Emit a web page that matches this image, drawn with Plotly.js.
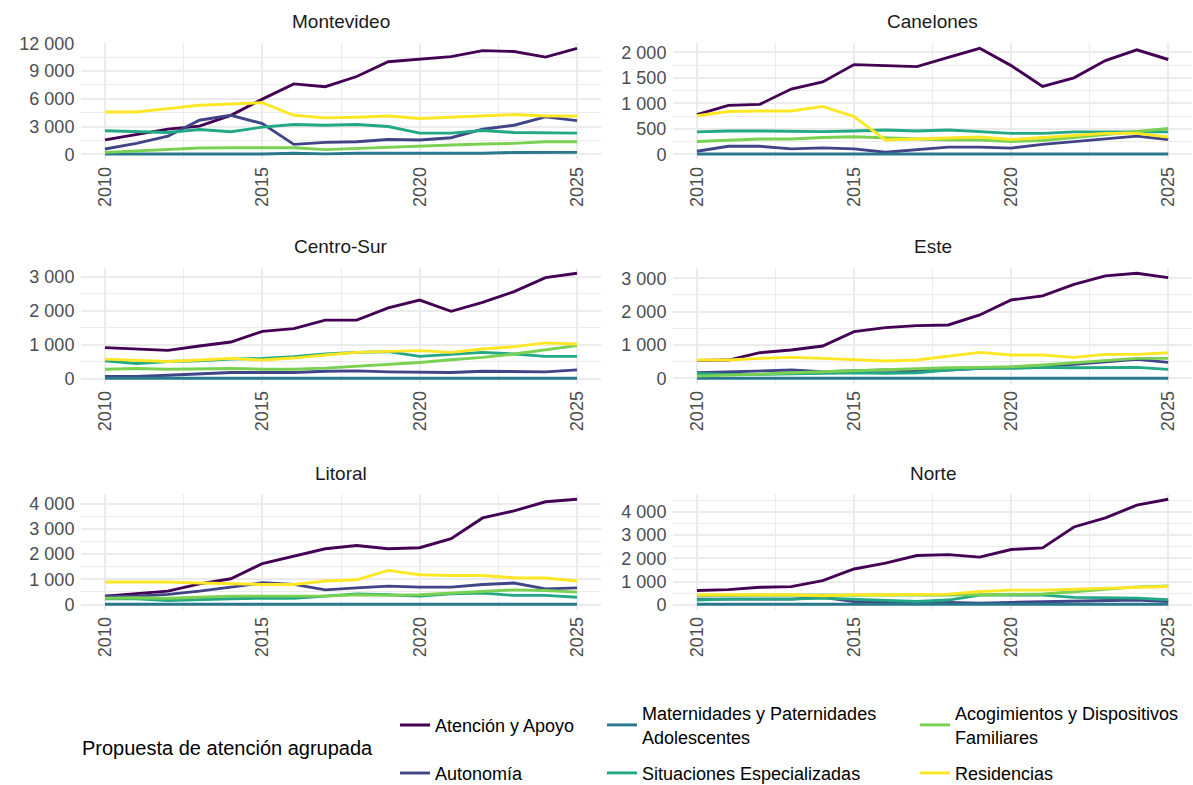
<!DOCTYPE html>
<html><head><meta charset="utf-8">
<script src="https://cdn.plot.ly/plotly-3.0.1.min.js"></script>
<style>body{margin:0;background:#fff}#chart{width:1193px;height:785px}</style>
</head><body><div id="chart"></div>
<script>
const years = [2010,2011,2012,2013,2014,2015,2016,2017,2018,2019,2020,2021,2022,2023,2024,2025];
const regions = ["Montevideo","Canelones","Centro-Sur","Este","Litoral","Norte"];
const seriesLabels = ["Atención y Apoyo","Autonomía","Maternidades y Paternidades<br>Adolescentes","Situaciones Especializadas","Acogimientos y Dispositivos<br>Familiares","Residencias"];
const legendTitle = "Propuesta de atención agrupada";
const yTickStep = [3000,500,1000,1000,1000,1000];
const xTickLabels = [2010,2015,2020,2025];

// Montevideo
const mvd_atencion     = [1550,2150,2720,3040,4200,5960,7600,7300,8400,10000,10300,10550,11200,11100,10500,11450];
const mvd_autonomia    = [570,1180,1950,3680,4210,3320,1070,1290,1360,1600,1540,1790,2710,3140,4040,3640];
const mvd_maternidades = [30,30,30,30,30,30,120,40,110,110,110,110,110,200,200,210];
const mvd_situaciones  = [2540,2430,2360,2680,2430,2930,3210,3140,3210,3000,2290,2290,2570,2360,2360,2290];
const mvd_acogimientos = [210,390,540,680,710,710,710,500,640,750,890,1000,1110,1180,1360,1360];
const mvd_residencias  = [4570,4570,4930,5290,5430,5570,4210,3930,4000,4140,3860,4000,4110,4290,4140,4140];
// Canelones
const can_atencion     = [780,960,980,1280,1420,1760,1740,1720,1900,2080,1740,1330,1500,1840,2050,1860];
const can_autonomia    = [60,156,156,106,125,106,40,95,140,140,120,195,250,300,356,290];
const can_maternidades = [5,5,5,5,5,5,5,5,5,5,5,5,5,5,5,5];
const can_situaciones  = [440,456,456,444,444,456,475,456,475,444,410,410,440,440,440,440];
const can_acogimientos = [250,280,300,300,330,345,320,300,280,280,250,270,330,395,456,506];
const can_residencias  = [756,840,850,850,940,740,280,300,320,340,290,330,375,410,410,340];
// Centro-Sur
const cs_atencion     = [910,880,830,960,1075,1390,1470,1720,1720,2080,2310,1980,2240,2560,2970,3100];
const cs_autonomia    = [60,60,100,150,178,178,178,218,228,198,178,178,218,218,198,257];
const cs_maternidades = [10,10,10,10,10,10,10,10,10,10,10,10,10,10,10,10];
const cs_situaciones  = [525,445,505,525,574,594,644,723,772,792,653,723,772,723,653,653];
const cs_acogimientos = [277,297,277,297,297,277,277,307,356,406,475,554,624,723,842,970];
const cs_residencias  = [574,545,505,545,594,545,604,693,772,800,822,772,871,940,1050,1020];
// Este
const este_atencion     = [540,550,770,850,970,1400,1520,1580,1600,1900,2350,2470,2820,3070,3150,3020];
const este_autonomia    = [170,190,220,250,200,230,250,230,250,300,330,370,420,500,570,480];
const este_maternidades = [5,5,5,5,5,5,5,5,5,5,5,5,5,5,5,5];
const este_situaciones  = [150,120,120,130,150,170,150,170,250,300,300,330,320,330,330,270];
const este_acogimientos = [70,90,130,170,200,230,270,300,320,330,350,400,470,550,600,600];
const este_residencias  = [550,550,600,630,600,550,520,550,670,780,700,700,630,720,720,770];
// Litoral
const lit_atencion     = [330,420,530,820,1020,1620,1910,2210,2340,2210,2250,2610,3430,3710,4070,4170];
const lit_autonomia    = [330,330,400,530,690,860,795,580,660,730,690,690,795,850,620,660];
const lit_maternidades = [10,10,10,10,10,10,10,10,10,10,10,10,10,10,10,10];
const lit_situaciones  = [225,225,160,200,225,250,250,330,420,385,330,420,450,360,360,290];
const lit_acogimientos = [250,265,250,290,330,330,330,330,385,360,385,450,530,580,555,490];
const lit_residencias  = [890,890,890,850,820,795,795,930,980,1350,1180,1150,1150,1060,1050,930];
// Norte
const nor_atencion     = [610,650,750,780,1040,1540,1790,2120,2160,2050,2380,2450,3350,3740,4290,4545];
const nor_autonomia    = [240,240,240,240,315,140,100,70,100,70,100,130,170,170,200,140];
const nor_maternidades = [20,20,20,20,20,20,20,20,20,20,20,20,20,20,20,20];
const nor_situaciones  = [200,240,240,240,285,240,200,140,200,415,415,415,315,285,285,215];
const nor_acogimientos = [400,400,400,400,390,400,400,400,420,430,430,460,560,670,770,810];
const nor_residencias  = [430,430,430,430,385,430,430,430,457,570,630,630,670,715,740,785];

const regionSeries = [
  [mvd_atencion,mvd_autonomia,mvd_maternidades,mvd_situaciones,mvd_acogimientos,mvd_residencias],
  [can_atencion,can_autonomia,can_maternidades,can_situaciones,can_acogimientos,can_residencias],
  [cs_atencion,cs_autonomia,cs_maternidades,cs_situaciones,cs_acogimientos,cs_residencias],
  [este_atencion,este_autonomia,este_maternidades,este_situaciones,este_acogimientos,este_residencias],
  [lit_atencion,lit_autonomia,lit_maternidades,lit_situaciones,lit_acogimientos,lit_residencias],
  [nor_atencion,nor_autonomia,nor_maternidades,nor_situaciones,nor_acogimientos,nor_residencias]
];

// ---- styling / geometry ----
const W = 1193, H = 785;
const colors = ["#440154","#414487","#2A788E","#22A884","#7AD151","#FDE725"];
const legendIds = ["legend","legend","legend2","legend2","legend3","legend3"];
const colPx = [[81.4,600.6],[673.4,1191.8]];
const rowPx = [[43,159.3],[268,383.5],[494,609.5]];
const FONT = "Liberation Sans, Arial, Helvetica, sans-serif";

const traces = [];
const layout = {
  width: W, height: H,
  margin: {l:0,r:0,t:0,b:0, autoexpand:false},
  paper_bgcolor: "#fff", plot_bgcolor: "#fff",
  separators: ". ",
  font: {family: FONT, size: 18, color: "#4D4D4D"},
  annotations: [],
  showlegend: true
};

regions.forEach((reg, i) => {
  const col = i % 2, row = Math.floor(i / 2);
  const xid = i === 0 ? "x" : "x" + (i + 1);
  const yid = i === 0 ? "y" : "y" + (i + 1);
  const series = regionSeries[i];
  series.forEach((vals, s) => {
    traces.push({
      x: years, y: vals, type: "scatter", mode: "lines",
      xaxis: xid, yaxis: yid,
      name: seriesLabels[s],
      legend: legendIds[s], legendgroup: "g" + s,
      showlegend: i === 0,
      line: {color: colors[s], width: 2.9},
      hoverinfo: "x+y+name"
    });
  });
  const all = [].concat(...series);
  const mn = Math.min(...all), mx = Math.max(...all);
  const pad = (mx - mn) * 0.05;
  const xdom = [colPx[col][0] / W, colPx[col][1] / W];
  const ydom = [1 - rowPx[row][1] / H, 1 - rowPx[row][0] / H];
  const step = yTickStep[i];
  layout["xaxis" + (i === 0 ? "" : i + 1)] = {
    domain: xdom, anchor: yid,
    range: [2009.25, 2025.75],
    tickmode: "array", tickvals: xTickLabels, ticktext: xTickLabels.map(String),
    tickangle: -90, tickfont: {size: 18, color: "#4D4D4D"},
    ticks: "", ticklabelstandoff: 3,
    showgrid: true, gridcolor: "#EBEBEB", gridwidth: 2,
    minor: {tickmode: "linear", tick0: 2010, dtick: 2.5, showgrid: true, gridcolor: "#EBEBEB", gridwidth: 1},
    zeroline: false, showline: false, fixedrange: true
  };
  layout["yaxis" + (i === 0 ? "" : i + 1)] = {
    domain: ydom, anchor: xid,
    range: [mn - pad, mx + pad],
    tickmode: "linear", tick0: 0, dtick: step,
    separatethousands: true, exponentformat: "none", tickformat: ",d",
    tickfont: {size: 18, color: "#4D4D4D"},
    ticks: "", ticklabelstandoff: 6,
    showgrid: true, gridcolor: "#EBEBEB", gridwidth: 2,
    minor: {tickmode: "linear", tick0: 0, dtick: step / 2, showgrid: true, gridcolor: "#EBEBEB", gridwidth: 1},
    zeroline: false, showline: false, fixedrange: true
  };
  layout.annotations.push({
    text: reg, xref: "paper", yref: "paper",
    x: (xdom[0] + xdom[1]) / 2, y: 1 - (rowPx[row][0] - 21) / H,
    xanchor: "center", yanchor: "middle", showarrow: false,
    font: {size: 19, color: "#1A1A1A", family: FONT}
  });
});

layout.annotations.push({
  text: legendTitle, xref: "paper", yref: "paper",
  x: 80 / W, y: 1 - 748 / H, xanchor: "left", yanchor: "middle", showarrow: false,
  font: {size: 20, color: "#000", family: FONT}
});

const legBase = {xanchor: "left", yanchor: "top", orientation: "v", bgcolor: "rgba(0,0,0,0)",
  font: {size: 18, color: "#000", family: FONT}, itemwidth: 30, traceorder: "grouped", valign: "middle"};
layout.legend  = Object.assign({}, legBase, {x: 395 / W, y: 1 - 706.8 / H, tracegroupgap: 21.6});
layout.legend2 = Object.assign({}, legBase, {x: 602 / W, y: 1 - 695 / H, tracegroupgap: 9.9});
layout.legend3 = Object.assign({}, legBase, {x: 915 / W, y: 1 - 695 / H, tracegroupgap: 9.9});

Plotly.newPlot("chart", traces, layout, {displayModeBar: false, staticPlot: true});
</script></body></html>
